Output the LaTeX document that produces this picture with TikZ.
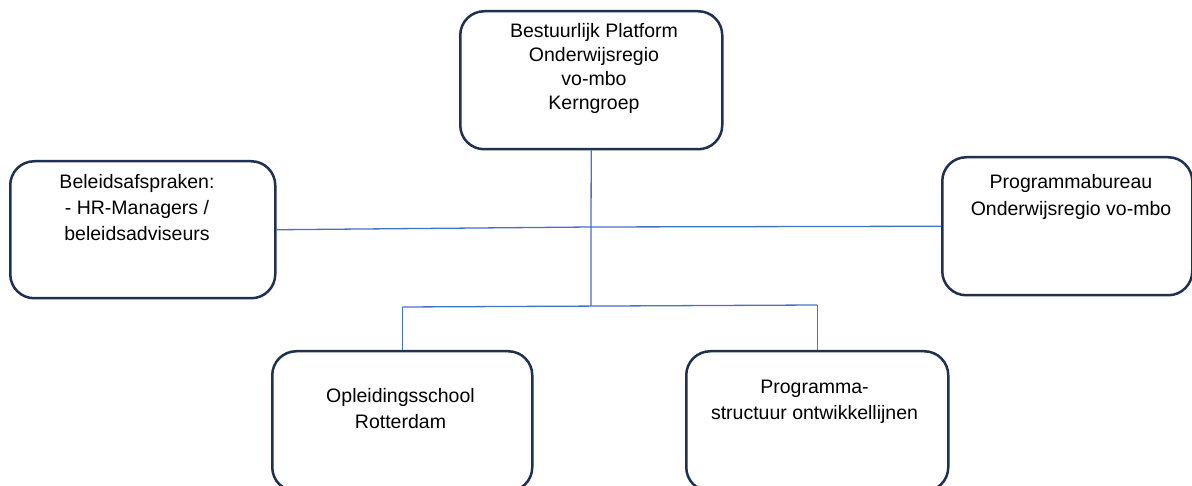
\documentclass[tikz,border=0pt]{standalone}
\usepackage{fontspec}
\setmainfont{Liberation Sans}
\definecolor{navy}{HTML}{1F3050}
\definecolor{conn}{HTML}{4472C4}
\begin{document}
\begin{tikzpicture}[x=1pt,y=-1pt,
  box/.style={draw=navy,line width=2.5pt,rounded corners=24pt,inner sep=0pt,anchor=north west},
  lbl/.style={align=center,inner sep=0pt,anchor=north,font=\fontsize{19.5}{#1}\selectfont},
  lbl/.default=26,
  link/.style={draw=conn,line width=1.3pt}]
\useasboundingbox (0,0) rectangle (1192,486);
% boxes
\node[box,minimum width=262pt,minimum height=138pt] (top) at (459,10) {};
\node[box,minimum width=265pt,minimum height=137pt] (left) at (9,160) {};
\node[box,minimum width=250pt,minimum height=138pt] (right) at (941,156) {};
\node[box,minimum width=260pt,minimum height=140pt] (bleft) at (271,350) {};
\node[box,minimum width=262pt,minimum height=140pt] (bright) at (685,350) {};
% texts
\node[lbl=24] (ttop) at (594,20.2) {\strut Bestuurlijk Platform\\Onderwijsregio\\vo-mbo\\Kerngroep};
\node[lbl=26] (tleft) at (137,169.8) {\strut Beleidsafspraken:\\- HR-Managers /\\beleidsadviseurs};
\node[lbl=27] (tright) at (1071,169.1) {\strut Programmabureau\\Onderwijsregio vo-mbo};
\node[lbl=26] (tbleft) at (400.5,383.8) {\strut Opleidingsschool\\Rotterdam};
\node[lbl=26] (tbright) at (814.5,374.8) {\strut Programma-\\structuur ontwikkellijnen};
% connectors
\coordinate (j1) at (591,227);
\coordinate (j2) at (591,306);
\coordinate (bl) at (bleft.north |- 0,307);
\coordinate (br) at (bright.north |- 0,305);
\draw[link] (top.south) -- (j1) -- (j2);
\draw[link] (left.east) -- (j1);
\draw[link] (j1) -- (right.west);
\draw[link] (bl) -- (br);
\draw[link] (bl) -- (bleft.north);
\draw[link] (br) -- (bright.north);
\end{tikzpicture}
\end{document}
